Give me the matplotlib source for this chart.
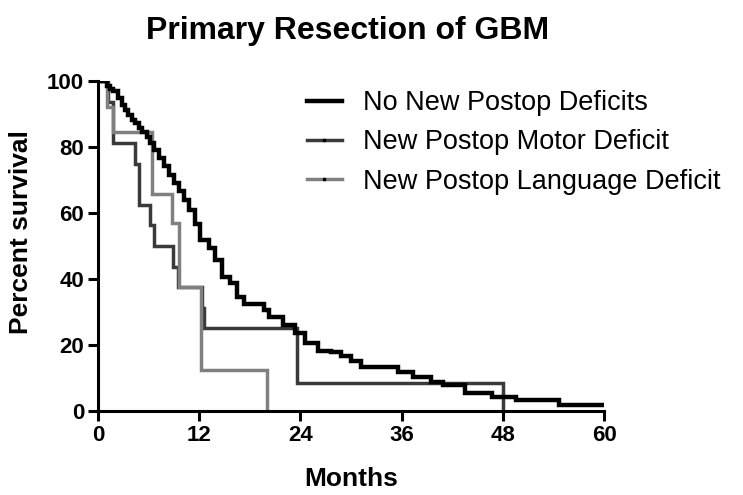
import matplotlib
matplotlib.use("Agg")
import matplotlib.pyplot as plt
from matplotlib.lines import Line2D

plt.rcParams['font.family'] = ['Liberation Sans', 'DejaVu Sans']

# Kaplan-Meier step data (month, percent survival)
no_def_t = [0, 1.0, 1.4, 1.8, 2.4, 2.8, 3.2, 3.6, 4.0, 4.4, 4.8, 5.2, 5.8, 6.2, 6.6,
            7.2, 7.8, 8.4, 9.0, 9.6, 10.2, 10.8, 11.5, 12.1, 13.1, 13.9, 14.7, 15.7,
            16.5, 17.3, 18.5, 19.7, 20.3, 21.9, 23.3, 24.5, 26.1, 27.6, 28.8, 30.0,
            31.2, 34.8, 35.6, 37.3, 39.5, 40.9, 43.5, 46.7, 49.6, 54.6, 60.0]
no_def_s = [100, 98.4, 97.7, 96.9, 94.8, 92.8, 91.3, 89.8, 88.3, 87.3, 85.8, 84.7, 83.2,
            81.2, 79.2, 76.7, 74.2, 71.6, 69.1, 66.6, 64.0, 61.0, 56.8, 51.8, 49.3, 45.8,
            40.7, 38.7, 34.6, 32.4, 32.4, 30.6, 28.6, 26.1, 23.6, 20.6, 18.1, 18.0, 16.5,
            15.0, 13.4, 13.4, 11.9, 10.4, 8.9, 7.9, 5.4, 4.3, 3.3, 1.8, 1.8]

motor_t = [0, 1.2, 1.8, 4.4, 4.8, 6.2, 6.6, 8.9, 9.5, 12.3, 12.6, 23.6, 48.0]
motor_s = [100, 93.75, 81.25, 75, 62.5, 56.25, 50, 43.75, 37.5, 31.25, 25, 8.33, 0]

lang_t = [0, 1.0, 1.8, 6.4, 8.8, 9.6, 12.2, 20.0]
lang_s = [100, 92.3, 84.6, 65.8, 56.9, 37.5, 12.5, 0]

labels = ["No New Postop Deficits", "New Postop Motor Deficit", "New Postop Language Deficit"]
colors = ["#000000", "#3a3a3a", "#808080"]

x_ticks = [0, 12, 24, 36, 48, 60]
y_ticks = [0, 20, 40, 60, 80, 100]

fig = plt.figure(figsize=(7.43, 4.95), dpi=100)
ax = fig.add_axes([0.132, 0.170, 0.681, 0.666])

ax.step(no_def_t, no_def_s, where='post', color=colors[0], lw=3.2, solid_joinstyle='miter', zorder=3)
ax.step(motor_t, motor_s, where='post', color=colors[1], lw=2.5, solid_joinstyle='miter', zorder=2)
ax.step(lang_t, lang_s, where='post', color=colors[2], lw=2.5, solid_joinstyle='miter', zorder=2)

ax.set_xlim(0, 60)
ax.set_ylim(0, 100)
ax.set_xticks(x_ticks)
ax.set_yticks(y_ticks)
for s in ['top', 'right']:
    ax.spines[s].set_visible(False)
for s in ['left', 'bottom']:
    ax.spines[s].set_linewidth(2.2)
ax.tick_params(direction='out', length=7, width=2.2, labelsize=16, pad=3)
for lbl in ax.get_xticklabels() + ax.get_yticklabels():
    lbl.set_fontweight('bold')

ax.set_xlabel("Months", fontsize=19, fontweight='bold', labelpad=15)
ax.set_ylabel("Percent survival", fontsize=19, fontweight='bold')
ax.yaxis.set_label_coords(-0.128, 0.543)
fig.text(0.468, 1 - 39.3 / 495, "Primary Resection of GBM", fontsize=23, fontweight='bold',
         ha='center', va='baseline')

handles = [
    Line2D([], [], color=colors[0], lw=3.2),
    Line2D([], [], color=colors[1], lw=2.5, marker='s', markersize=1.5,
           markerfacecolor='black', markeredgecolor='black'),
    Line2D([], [], color=colors[2], lw=2.5, marker='s', markersize=1.5,
           markerfacecolor='black', markeredgecolor='black'),
]
leg = fig.legend(handles, labels, loc='upper left', bbox_to_anchor=(0.413, 0.818),
                 frameon=False, fontsize=19.5, handlelength=1.3, handletextpad=0.78,
                 labelspacing=0.49, borderaxespad=0, borderpad=0)

fig.savefig("out.png", dpi=100)
